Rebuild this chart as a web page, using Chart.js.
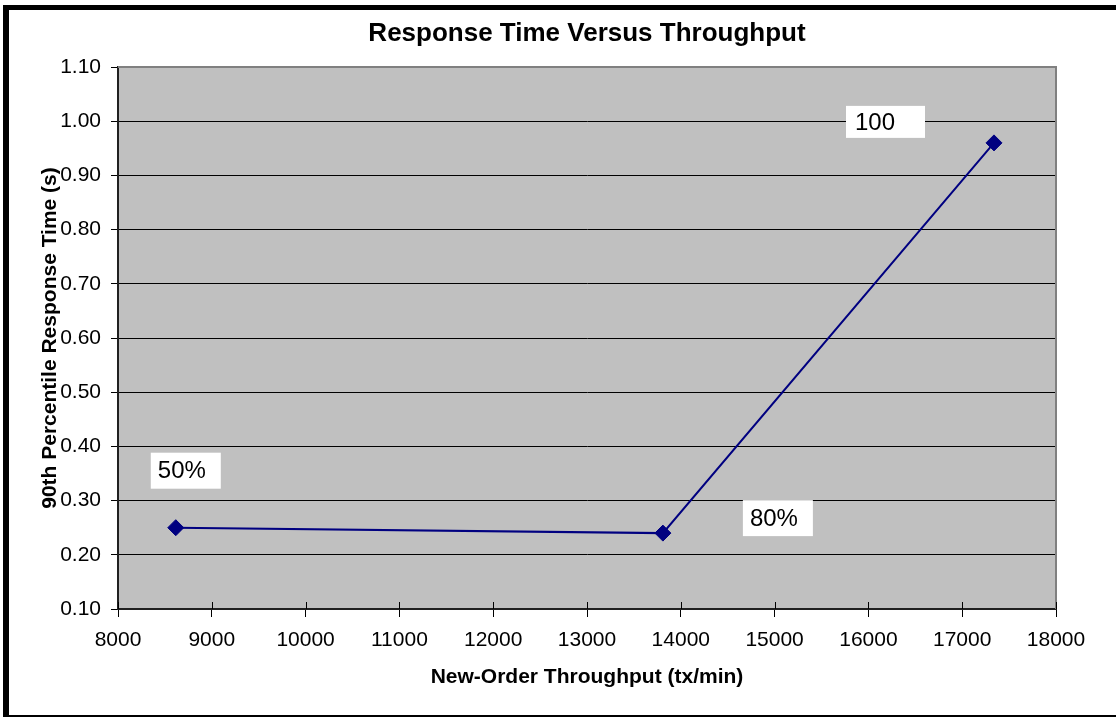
<!DOCTYPE html>
<html>
<head>
<meta charset="utf-8">
<title>Response Time Versus Throughput</title>
<script src="https://cdn.jsdelivr.net/npm/chart.js@4.4.1/dist/chart.umd.min.js"></script>
<style>
    html, body {
        margin: 0;
        padding: 0;
        width: 1116px;
        height: 717px;
        overflow: hidden;
        background: #ffffff;
    }
    .frame {
        position: absolute;
        left: 3px;
        top: 5px;
        width: 1113px;
        height: 712px;
        box-sizing: border-box;
        border-left: 6px solid #000;
        border-top: 5px solid #000;
        border-bottom: 2px solid #000;
    }
    .chart-box {
        position: relative;
        width: 1107px;
        height: 705px;
    }
</style>
</head>
<body>
<div class="frame">
    <div class="chart-box">
        <canvas id="rtChart"></canvas>
    </div>
</div>

<script>
// Measured points (throughput in tx/min, 90th percentile response time in s)
const throughput = [8616, 13809, 17339];
const responseTime = [0.25, 0.24, 0.96];
const pointLabels = ['50%', '80%', '100'];

// Axis ticks
const xTicks = [8000, 9000, 10000, 11000, 12000, 13000, 14000, 15000, 16000, 17000, 18000];
const yTicks = [0.10, 0.20, 0.30, 0.40, 0.50, 0.60, 0.70, 0.80, 0.90, 1.00, 1.10];

const FONT = "'Liberation Sans', Arial, Helvetica, sans-serif";

// grey plot area, grey top/right frame and the small inner x ticks
const plotFrame = {
    id: 'plotFrame',
    beforeDraw(chart) {
        const {ctx, chartArea: a} = chart;
        ctx.save();
        ctx.fillStyle = '#c0c0c0';
        ctx.fillRect(a.left, a.top, a.right - a.left, a.bottom - a.top);
        ctx.restore();
    },
    beforeDatasetsDraw(chart) {
        const {ctx, chartArea: a, scales} = chart;
        ctx.save();
        ctx.strokeStyle = '#808080';
        ctx.lineWidth = 2;
        ctx.beginPath();
        ctx.moveTo(a.left, a.top);
        ctx.lineTo(a.right, a.top);
        ctx.lineTo(a.right, a.bottom);
        ctx.stroke();

        ctx.strokeStyle = '#000';
        ctx.lineWidth = 1;
        ctx.beginPath();
        scales.x.ticks.forEach(t => {
            const px = Math.round(scales.x.getPixelForValue(t.value)) + 0.5;
            ctx.moveTo(px, a.bottom);
            ctx.lineTo(px, a.bottom - 7);
        });
        ctx.stroke();
        ctx.restore();
    }
};

// white boxed labels next to the points
const boxLabels = {
    id: 'boxLabels',
    afterDatasetsDraw(chart, args, opts) {
        const {ctx} = chart;
        const meta = chart.getDatasetMeta(0);
        ctx.save();
        ctx.font = opts.font;
        ctx.textBaseline = 'middle';
        ctx.textAlign = 'left';
        meta.data.forEach((pt, i) => {
            const b = opts.boxes[i];
            const x = pt.x + b.dx;
            const y = pt.y + b.dy;
            ctx.fillStyle = '#ffffff';
            ctx.fillRect(x, y, b.w, b.h);
            ctx.fillStyle = '#000';
            ctx.fillText(pointLabels[i], x + b.pad, y + b.h / 2 + 1);
        });
        ctx.restore();
    }
};

const rtChart = new Chart(document.getElementById('rtChart'), {
    type: 'line',
    data: {
        datasets: [{
            data: throughput.map((x, i) => ({x: x, y: responseTime[i]})),
            borderColor: '#000080',
            backgroundColor: '#000080',
            borderWidth: 2,
            tension: 0,
            pointStyle: 'rectRot',
            pointRadius: 8,
            pointBorderWidth: 1,
            pointBorderColor: '#000080',
            pointBackgroundColor: '#000080'
        }]
    },
    options: {
        responsive: true,
        maintainAspectRatio: false,
        animation: false,
        layout: {
            padding: {left: 0, right: 60, top: 0, bottom: 0}
        },
        plugins: {
            legend: {display: false},
            tooltip: {enabled: false},
            title: {
                display: true,
                fullSize: false,
                text: 'Response Time Versus Throughput',
                color: '#000',
                font: {family: FONT, size: 26, weight: 'bold'},
                padding: {top: 8, bottom: 17.8}
            },
            boxLabels: {
                font: "24px " + FONT,
                boxes: [
                    {dx: -25, dy: -75, w: 70, h: 36, pad: 7},
                    {dx: 80, dy: -33, w: 70, h: 36, pad: 7},
                    {dx: -148, dy: -37, w: 79, h: 32, pad: 9}
                ]
            }
        },
        scales: {
            x: {
                type: 'linear',
                min: xTicks[0],
                max: xTicks[xTicks.length - 1],
                afterBuildTicks: axis => { axis.ticks = xTicks.map(v => ({value: v})); },
                afterFit: axis => { axis.height = 106; },
                grid: {
                    drawOnChartArea: false,
                    drawTicks: true,
                    tickLength: 8,
                    color: '#000'
                },
                border: {color: '#202020', width: 2},
                ticks: {
                    color: '#000',
                    padding: 11,
                    maxRotation: 0,
                    font: {family: FONT, size: 21},
                    callback: v => String(v)
                },
                title: {
                    display: true,
                    text: 'New-Order Throughput (tx/min)',
                    color: '#000',
                    font: {family: FONT, size: 21, weight: 'bold'},
                    padding: {top: 0, bottom: 25}
                }
            },
            y: {
                type: 'linear',
                min: yTicks[0],
                max: yTicks[yTicks.length - 1],
                afterBuildTicks: axis => { axis.ticks = yTicks.map(v => ({value: v})); },
                afterFit: axis => { axis.width = 109; },
                grid: {
                    color: '#000',
                    lineWidth: 1,
                    drawTicks: true,
                    tickLength: 7
                },
                border: {color: '#202020', width: 2},
                ticks: {
                    color: '#000',
                    padding: 10,
                    font: {family: FONT, size: 21},
                    callback: v => Number(v).toFixed(2)
                },
                title: {
                    display: true,
                    text: '90th Percentile Response Time (s)',
                    color: '#000',
                    font: {family: FONT, size: 21, weight: 'bold'},
                    padding: {top: 29, bottom: 0}
                }
            }
        }
    },
    plugins: [plotFrame, boxLabels]
});
</script>
</body>
</html>
